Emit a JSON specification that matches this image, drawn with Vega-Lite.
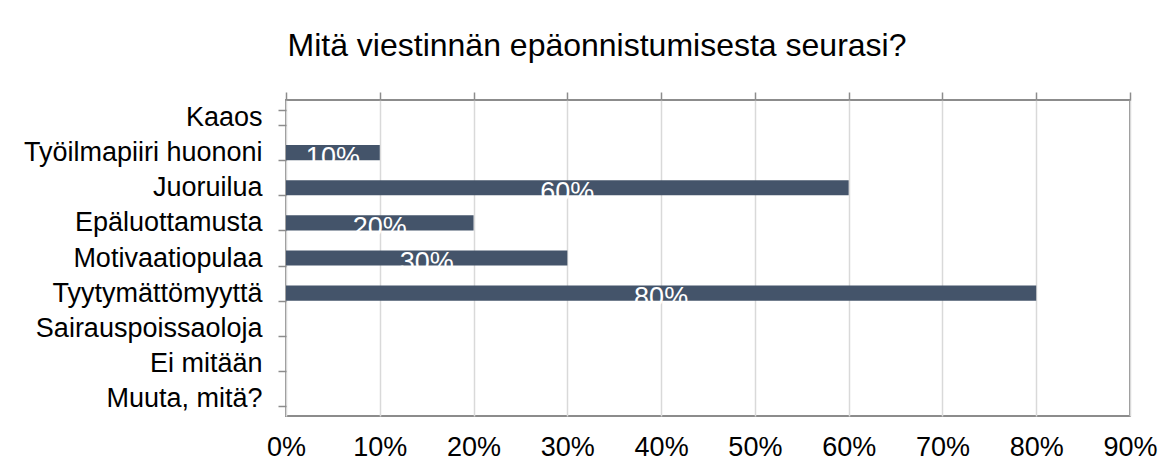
{
  "$schema": "https://vega.github.io/schema/vega-lite/v6.json",
  "autosize": {"type": "none"},
  "width": 844,
  "height": 316,
  "padding": {"left": 286, "top": 100, "right": 46, "bottom": 57},
  "background": "white",
  "title": {
    "text": "Mitä viestinnän epäonnistumisesta seurasi?",
    "font": "Liberation Sans",
    "fontSize": 32,
    "fontWeight": "normal",
    "color": "#000000",
    "anchor": "middle",
    "frame": "group",
    "baseline": "alphabetic",
    "dx": -111,
    "offset": -2
  },
  "config": {
    "view": {"stroke": "#8C8C8C", "strokeWidth": 2},
    "axis": {
      "labelFont": "Liberation Sans",
      "labelFontSize": 27,
      "labelColor": "#000000",
      "labelLimit": 500,
      "titleFont": "Liberation Sans"
    }
  },
  "data": {
    "values": [
      {"category": "Kaaos", "value": 0},
      {"category": "Työilmapiiri huononi", "value": 0.1},
      {"category": "Juoruilua", "value": 0.6},
      {"category": "Epäluottamusta", "value": 0.2},
      {"category": "Motivaatiopulaa", "value": 0.3},
      {"category": "Tyytymättömyyttä", "value": 0.8},
      {"category": "Sairauspoissaoloja", "value": 0},
      {"category": "Ei mitään", "value": 0},
      {"category": "Muuta, mitä?", "value": 0}
    ]
  },
  "resolve": {"axis": {"x": "independent"}},
  "layer": [
    {
      "mark": {"type": "bar", "color": "#44546A"},
      "encoding": {
        "y": {
          "field": "category",
          "type": "nominal",
          "sort": null,
          "scale": {"paddingInner": 0.57, "paddingOuter": 0.285},
          "axis": {
            "title": null,
            "domain": false,
            "tickBand": "extent",
            "tickSize": 8,
            "tickColor": "#8C8C8C",
            "tickWidth": 1.5,
            "labelPadding": 16,
            "grid": false
          }
        },
        "x": {
          "field": "value",
          "type": "quantitative",
          "scale": {"domain": [0, 0.9], "nice": false},
          "axis": {
            "orient": "bottom",
            "title": null,
            "values": [0, 0.1, 0.2, 0.3, 0.4, 0.5, 0.6, 0.7, 0.8, 0.9],
            "format": ".0%",
            "domain": false,
            "ticks": false,
            "labelPadding": 18,
            "grid": true,
            "gridColor": "#D9D9D9",
            "gridWidth": 1.5,
            "labelFlush": false
          }
        }
      }
    },
    {
      "transform": [
        {"filter": "datum.value > 0"},
        {"calculate": "datum.value / 2", "as": "mid"}
      ],
      "mark": {
        "type": "text",
        "color": "white",
        "font": "Liberation Sans",
        "fontSize": 27,
        "baseline": "alphabetic",
        "align": "center",
        "dy": 13
      },
      "encoding": {
        "y": {"field": "category", "type": "nominal", "sort": null},
        "x": {
          "field": "mid",
          "type": "quantitative",
          "axis": {
            "orient": "top",
            "title": null,
            "values": [0, 0.1, 0.2, 0.3, 0.4, 0.5, 0.6, 0.7, 0.8, 0.9],
            "labels": false,
            "domain": false,
            "grid": false,
            "tickSize": 8,
            "tickColor": "#8C8C8C",
            "tickWidth": 1.5
          }
        },
        "text": {"field": "value", "type": "quantitative", "format": ".0%"}
      }
    }
  ]
}
